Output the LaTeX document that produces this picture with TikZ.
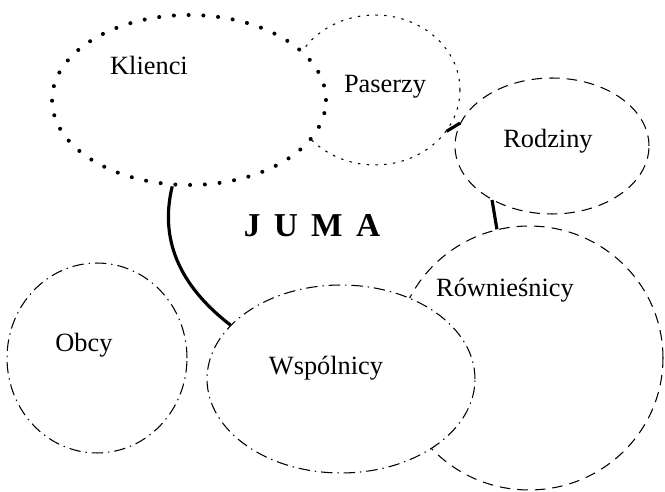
\documentclass[tikz,border=0pt]{standalone}
\usepackage{fontspec}
\setmainfont{Liberation Serif}
\usetikzlibrary{shapes.geometric}

\begin{document}
\begin{tikzpicture}[x=0.02cm, y=-0.02cm,
        circ/.style={ellipse, inner sep=0pt, line width=0.6pt},
        bigdots/.style={circ, line width=2.3pt, line cap=round, dash pattern=on 0pt off 8.4pt},
        finedots/.style={circ, dash pattern=on 1.4pt off 3.6pt},
        dashes/.style={circ, dash pattern=on 6pt off 4pt},
        dashdots/.style={circ, dash pattern=on 6.5pt off 2.8pt on 0.8pt off 2.8pt},
        lbl/.style={anchor=base, font=\fontsize{15}{18}\selectfont},
        tie/.style={line width=1.8pt}]
        \useasboundingbox (0,0) rectangle (665,492);

        % back ellipses first, the front ones cover them
        \node[finedots, draw, minimum width=3.40cm, minimum height=3.00cm] (pas) at (375, 90) {};
        \node[bigdots, draw, fill=white, minimum width=5.48cm, minimum height=3.40cm] (kl) at (189, 100) {};
        \node[dashes, draw, minimum width=3.88cm, minimum height=2.72cm] (rod) at (552, 146) {};
        \node[dashes, draw, minimum width=5.36cm, minimum height=5.28cm] (row) at (529, 358) {};
        \node[dashdots, draw, fill=white, minimum width=5.36cm, minimum height=3.76cm] (wsp) at (341, 379) {};
        \node[dashdots, draw, minimum width=3.60cm, minimum height=3.80cm] (obc) at (97, 358) {};

        \node[lbl] (klt) at (149, 75) {Klienci};
        \node[lbl] (past) at (385, 93) {Paserzy};
        \node[lbl] (rodt) at (548, 148) {Rodziny};
        \node[lbl] (rowt) at (505, 297) {Równieśnicy};
        \node[lbl] (wspt) at (326, 375) {Wspólnicy};
        \node[lbl] (obct) at (84, 352) {Obcy};
        \node[anchor=base, font=\fontsize{19}{22}\selectfont\bfseries] (juma) at (312, 237)
            {J\hspace{0.4em}U\hspace{0.4em}M\hspace{0.4em}A};

        \draw[tie] (kl.259) .. controls (158, 245) and (185, 290) .. (wsp.154);
        \draw[tie] (pas.-30) -- (rod.166);
        \draw[tie] (rod.222) -- (row.104);
\end{tikzpicture}
\end{document}
